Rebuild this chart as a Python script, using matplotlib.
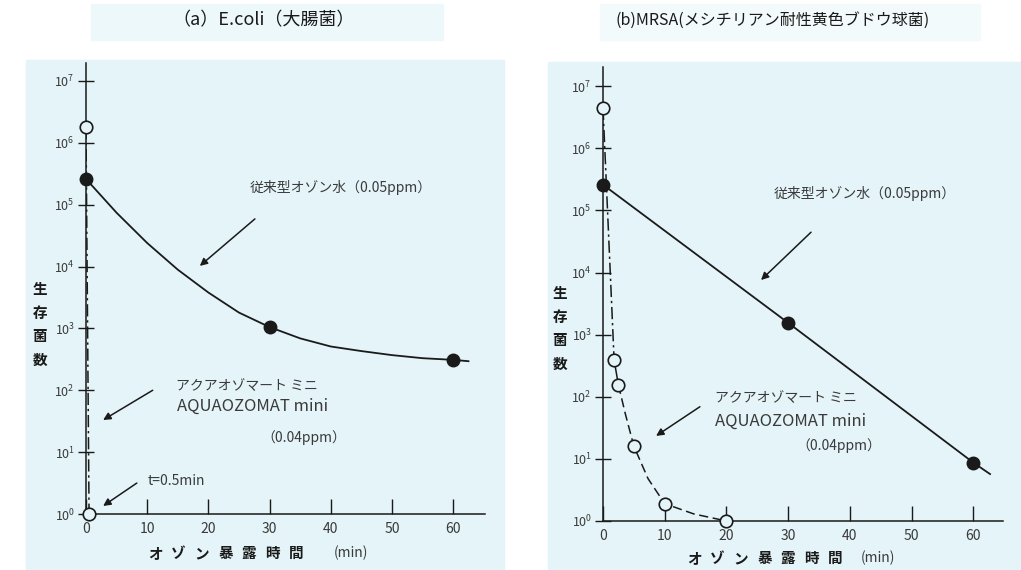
import matplotlib.pyplot as plt
from matplotlib.patches import Rectangle
from matplotlib.ticker import FixedLocator, NullLocator

plt.rcParams['font.family'] = ['Noto Sans CJK JP', 'DejaVu Sans']

W, H = 1021, 570
BG = '#e4f4f8'
INK = '#1a1a1a'
TXT = '#3a3a3a'

# (a) E.coli
ecoli_mark_t = [0, 30, 60]
ecoli_conv_marks = [2.6e5, 1.05e3, 3.1e2]
ecoli_conv_t = [0, 5, 10, 15, 20, 25, 30, 35, 40, 45, 50, 55, 60, 62.5]
ecoli_conv = [2.6e5, 7.4e4, 2.4e4, 8.9e3, 3.8e3, 1.8e3, 1.05e3, 6.9e2,
              5.1e2, 4.3e2, 3.7e2, 3.3e2, 3.1e2, 2.95e2]
ecoli_aqua_t = [0, 0.5]
ecoli_aqua = [1.8e6, 1.0]

# (b) MRSA
mrsa_mark_t = [0, 30, 60]
mrsa_conv_marks = [2.6e5, 1.55e3, 8.7]
mrsa_conv_t = [0, 30, 60, 62.7]
mrsa_conv = [2.6e5, 1.55e3, 8.7, 5.7]
mrsa_aqua_t = [0, 1.8, 2.5, 5, 10, 20]
mrsa_aqua = [4.5e6, 390, 155, 16, 1.9, 1.0]
mrsa_aqua_curve_t = [2.5, 3.6, 5, 7.3, 10, 14.7, 20]
mrsa_aqua_curve = [155, 54, 16, 4.8, 1.9, 1.3, 1.0]

x_ticks = [0, 10, 20, 30, 40, 50, 60]
y_ticks = [1e0, 1e1, 1e2, 1e3, 1e4, 1e5, 1e6, 1e7]

titles = ['（a）E.coli（大腸菌）', '(b)MRSA(メシチリアン耐性黄色ブドウ球菌)']
ylabel = '生存菌数'
xlabel = 'オゾン暴露時間'
conv_label = '従来型オゾン水（0.05ppm）'
aqua_label1 = 'アクアオゾマート ミニ'
aqua_label2 = 'AQUAOZOMAT mini'
aqua_label3 = '（0.04ppm）'


def px_axes(fig, x0, y0, x1, y1):
    return fig.add_axes([x0 / W, 1 - y1 / H, (x1 - x0) / W, (y1 - y0) / H])


def style_axes(ax, xmax, ymax_log):
    ax.set_yscale('log')
    ax.set_xlim(0, xmax)
    ax.set_ylim(1, 10 ** ymax_log)
    ax.patch.set_visible(False)
    for s in ['top', 'right']:
        ax.spines[s].set_visible(False)
    for s in ['left', 'bottom']:
        ax.spines[s].set_linewidth(1.1)
        ax.spines[s].set_color(INK)
    ax.xaxis.set_major_locator(FixedLocator(x_ticks))
    ax.yaxis.set_major_locator(FixedLocator(y_ticks))
    ax.yaxis.set_minor_locator(NullLocator())
    ax.tick_params(axis='x', direction='in', length=11, width=1, color=INK,
                   labelsize=10, labelcolor=TXT, pad=6)
    ax.tick_params(axis='y', direction='inout', length=12, width=1, color=INK,
                   labelsize=9, labelcolor=TXT, pad=2)


def arrow(ax, start, end):
    ax.annotate('', xy=(end[0], 10 ** end[1]), xytext=(start[0], 10 ** start[1]),
                arrowprops=dict(arrowstyle='-|>', color=INK, lw=1.1,
                                mutation_scale=11, shrinkA=0, shrinkB=0))


fig = plt.figure(figsize=(W / 100, H / 100), dpi=100)

# light blue panels
fig.patches.append(Rectangle((26 / W, 0), 478 / W, 1 - 60 / H, transform=fig.transFigure,
                             color=BG, zorder=-10))
fig.patches.append(Rectangle((548 / W, 0), 473 / W, 1 - 62 / H, transform=fig.transFigure,
                             color=BG, zorder=-10))
fig.patches.append(Rectangle((91 / W, 1 - 40 / H), 352 / W, 36 / H, transform=fig.transFigure,
                             color='#edf8fb', zorder=-10))
fig.patches.append(Rectangle((600 / W, 1 - 40 / H), 380 / W, 36 / H, transform=fig.transFigure,
                             color='#f3fafc', zorder=-10))

# ---- (a) E.coli
ax1 = px_axes(fig, 86, 63, 485, 514)
style_axes(ax1, 65.2, 7.29)
ax1.plot(ecoli_conv_t, ecoli_conv, color=INK, lw=1.3)
ax1.plot(ecoli_mark_t, ecoli_conv_marks, 'o', color=INK, ms=9, clip_on=False, zorder=5)
ax1.plot(ecoli_aqua_t, ecoli_aqua, color=INK, lw=1.1, ls=(0, (8, 2.5, 1.5, 2.5)))
ax1.plot(ecoli_aqua_t, ecoli_aqua, 'o', mfc=BG, mec=INK, mew=1.2, ms=9, clip_on=False, zorder=5)

ax1.text(26.8, 10 ** 5.27, conv_label, fontsize=10, color=TXT, va='center')
arrow(ax1, (27.6, 4.77), (18.6, 4.01))
ax1.text(14.7, 10 ** 2.07, aqua_label1, fontsize=10, color=TXT, va='center')
ax1.text(14.9, 10 ** 1.74, aqua_label2, fontsize=12, color=TXT, va='center')
ax1.text(28.6, 10 ** 1.23, aqua_label3, fontsize=10, color=TXT, va='center')
arrow(ax1, (10.9, 2.0), (2.8, 1.52))
ax1.text(10.0, 10 ** 0.53, 't=0.5min', fontsize=10, color=TXT, va='center')
arrow(ax1, (8.3, 0.50), (2.8, 0.13))

# ---- (b) MRSA
ax2 = px_axes(fig, 603, 67, 1003, 521)
style_axes(ax2, 64.8, 7.31)
ax2.plot(mrsa_conv_t, mrsa_conv, color=INK, lw=1.3)
ax2.plot(mrsa_mark_t, mrsa_conv_marks, 'o', color=INK, ms=9, clip_on=False, zorder=5)
ax2.plot(mrsa_aqua_t[:2], mrsa_aqua[:2], color=INK, lw=1.1, ls=(0, (8, 2.5, 1.5, 2.5)))
ax2.plot(mrsa_aqua_t[1:3], mrsa_aqua[1:3], color=INK, lw=1.1)
ax2.plot(mrsa_aqua_curve_t, mrsa_aqua_curve, color=INK, lw=1.1, ls=(0, (6, 3)))
ax2.plot(mrsa_aqua_t, mrsa_aqua, 'o', mfc=BG, mec=INK, mew=1.2, ms=9, clip_on=False, zorder=5)

ax2.text(27.6, 10 ** 5.28, conv_label, fontsize=10, color=TXT, va='center')
arrow(ax2, (33.7, 4.65), (25.6, 3.88))
ax2.text(18.2, 10 ** 1.98, aqua_label1, fontsize=10, color=TXT, va='center')
ax2.text(18.2, 10 ** 1.61, aqua_label2, fontsize=12, color=TXT, va='center')
ax2.text(31.4, 10 ** 1.21, aqua_label3, fontsize=10, color=TXT, va='center')
arrow(ax2, (15.7, 1.84), (8.6, 1.37))

# titles
fig.text(264 / W, 1 - 20 / H, titles[0], fontsize=13, color=INK, ha='center', va='center')
fig.text(773 / W, 1 - 20 / H, titles[1], fontsize=11.5, color=INK, ha='center', va='center')

# stacked y labels
for x0, y0 in [(40, 289), (560, 293)]:
    for i, ch in enumerate(ylabel):
        fig.text(x0 / W, 1 - (y0 + i * 23.7) / H, ch, fontsize=10.5, color=INK,
                 ha='center', va='center', fontweight='bold')

# spaced x labels
for x0, y0, xm in [(155, 553, 351), (694, 558, 878)]:
    for i, ch in enumerate(xlabel):
        fig.text((x0 + i * 23.5) / W, 1 - y0 / H, ch, fontsize=10.5, color=INK,
                 ha='center', va='center', fontweight='bold')
    fig.text(xm / W, 1 - y0 / H, '(min)', fontsize=10, color=TXT, ha='center', va='center')

fig.savefig('out.png', dpi=100, facecolor='white')
